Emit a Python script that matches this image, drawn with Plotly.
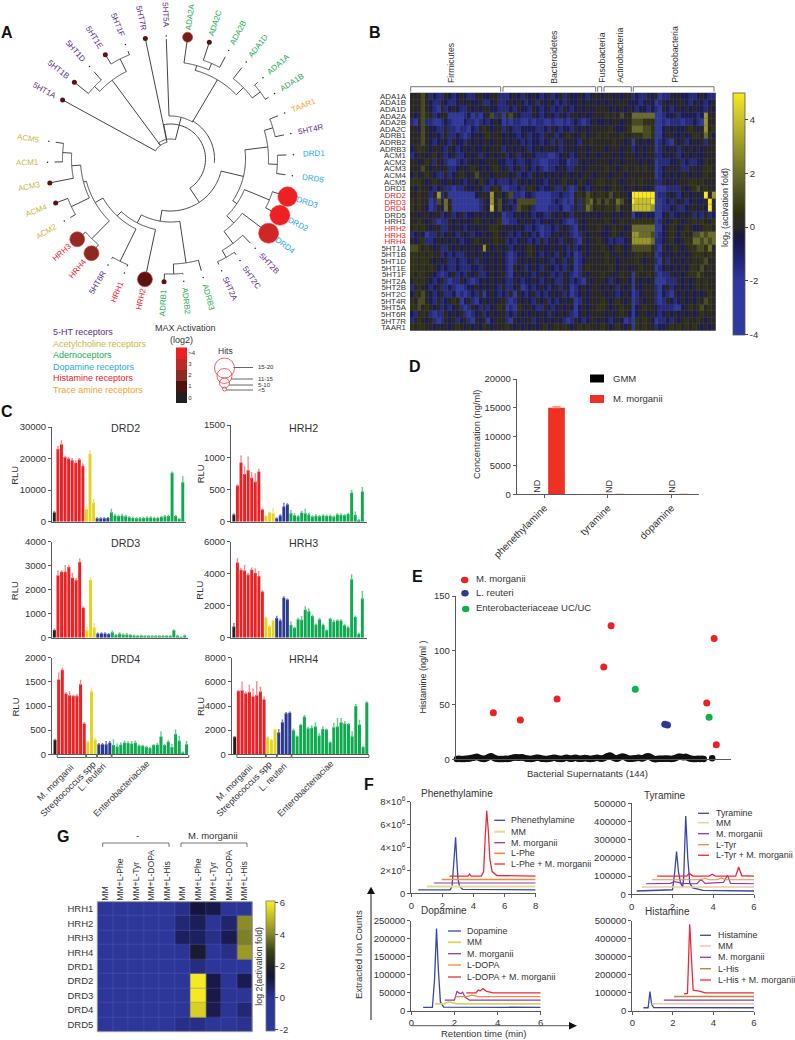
import numpy as np
import plotly.graph_objects as go

W, H = 795, 1040
FONT = "Liberation Sans"
INK = "#333333"
AXC = "#5a5a5a"

# --- A: receptor tree ---
leaf_names = ["5HT1A", "5HT1B", "5HT1D", "5HT1E", "5HT1F", "5HT7R", "5HT5A", "ADA2A", "ADA2C", "ADA2B", "ADA1D", "ADA1A",
              "ADA1B", "TAAR1", "5HT4R", "DRD1", "DRD5", "DRD3", "DRD2", "DRD4", "5HT2B", "5HT2C", "5HT2A", "ADRB3",
              "ADRB2", "ADRB1", "HRH2", "HRH1", "5HT6R", "HRH4", "HRH3", "ACM2", "ACM4", "ACM3", "ACM1", "ACM5"]
leaf_angle = [151.3, 141.4, 131.2, 122, 111.5, 101.8, 92, 82, 71.6, 61.8, 52, 41.3,
              32.2, 21.9, 12, 2, -7.8, -17.8, -27.2, -37.1, -46.5, -55.6, -65.4, -74.6,
              -83.8, -93, -102, -112, -120.5, -130, -139.3, -149.7, -159, -168.8, -178.5, -188.3]
leaf_hits = {"5HT1A": 5, "5HT1B": 5, "5HT1E": 5, "5HT7R": 5, "ADA2C": 5, "ADRB1": 5, "ACM3": 5, "ACM4": 5,
             "ADA2A": 10, "HRH2": 15, "HRH3": 15, "HRH4": 15, "DRD2": 20, "DRD3": 19.5, "DRD4": 20}
leaf_log2 = {"5HT1A": 1, "5HT1B": 1, "5HT1E": 1, "5HT7R": 1, "ADA2C": 1, "ADRB1": 1, "ACM3": 1, "ACM4": 1,
             "ADA2A": 1.5, "HRH2": 1, "HRH3": 2.2, "HRH4": 2, "DRD2": 4, "DRD3": 4, "DRD4": 3.3}
# nested (radius, children)
tree = (35, [
    (20, [
        (17, ["5HT1A",
              (98, [(105, ["5HT1B", "5HT1D"]), (112, ["5HT1E", "5HT1F"])]),
              "5HT7R"]),
        (43, ["5HT5A",
              (92, [(97, ["ADA2A", (104, ["ADA2C", "ADA2B"])]),
                    (102, ["ADA1D", (112, ["ADA1A", "ADA1B"])])])]),
    ]),
    (52, [
        (75, [
            (98, [(107, ["TAAR1", "5HT4R"]), (107, ["DRD1", "DRD5"])]),
            (80, [(107, ["DRD3", "DRD2"]),
                  (90, ["DRD4", (105, ["5HT2B", (113, ["5HT2C", "5HT2A"])])])]),
        ]),
        (63, [
            (105, ["ADRB3", (115, ["ADRB2", "ADRB1"])]),
            (72, ["HRH2",
                  (78, [(114, ["HRH1", "5HT6R"]),
                        (87, [(112, ["HRH4", "HRH3"]),
                              (90, [(110, ["ACM2", "ACM4"]),
                                    (99, ["ACM3", (108, ["ACM1", "ACM5"])])])])])]),
        ]),
    ]),
])
family_names = ["5-HT receptors", "Acetylcholine receptors", "Adernoceptors", "Dopamine receptors", "Histamine receptors",
                "Trace amine receptors"]
hit_labels = ["15-20", "11-15", "5-10", "<5"]
max_levels = [0, 1, 2, 3, 4]
max_labels = ["0", "1", "2", "3", ">4"]

# --- B: supernatant heatmap, one letter per cell ---
b_rows = ["ADA1A", "ADA1B", "ADA1D", "ADA2A", "ADA2B", "ADA2C", "ADRB1", "ADRB2", "ADRB3", "ACM1", "ACM2", "ACM3", "ACM4",
          "ACM5", "DRD1", "DRD2", "DRD3", "DRD4", "DRD5", "HRH1", "HRH2", "HRH3", "HRH4", "5HT1A", "5HT1B", "5HT1D", "5HT1E",
          "5HT1F", "5HT2A", "5HT2B", "5HT2C", "5HT4R", "5HT5A", "5HT6R", "5HT7R", "TAAR1"]
b_red = ["DRD2", "DRD3", "DRD4", "HRH2", "HRH3", "HRH4"]
b_letters = {"A": -3, "B": -2.2, "C": -1.4, "D": -0.7, ".": 0, "e": 0.6, "f": 1.2, "g": 2, "h": 3, "i": 4, "j": 5}
b_phyla = ["Firmicutes", "Bacteroidetes", "Fusobacteria", "Actinobacteria", "Proteobacteria"]
b_cells = [
    "...f.CDCC.DCD.DCC..DD..C CCD.DC.D.DCD.CD.C.DD.DCD. . D..D.D.. CDCC.D.BCC.D.DDCCD.DCC",
    "...f.DCC.DCCD.D.DD.CCD.C CD.D.DCD.C.D.DCDC.DD.D.D. D .D.D...D DDCD.DBC.D.D..DCD.DCD.",
    "...f.DCB.CD.DCC.D.D..DDC CCDC.DDC.DCD.CDC.DCD.D.D. . ..D.D.D. DCDDCDCB.DCD.D.D.DDC.D",
    ".D.fe.CD..BBBBCDBCBD.fCe Bef.DCCC.DCD.DC.DC..D.DD. . .e.e.f.. ggggggBBCDD.CDDDDCDh..",
    "CB.fCCBBCDCBBBDCCBCDCD.D BCBCCBBCBCCBBCBBCBCDCBCD. D D.D..D.. fffeeeBBCBCCCBCCDCBh..",
    "..Df.DDCC.CCBCCBDC.e.D.. C.DCCDDDDCCDC.DCDDC.D.D.. . ..e.DD.e gggffeBBD.D.DD.e.D.h.e",
    "...f.D.DC.CCDCBCD.D.e... D.DDCD.CDDC.D.CD.e.D.eD.. e .e...e.. eeeffeBBD..DD.D.ee.geD",
    "...f.DCD.DC.DDC.D.D..D.. D.D.DCDCDDCD.C.C.D.DC..e. . ...e..D. B.D.D.BCDCB.D.CD.D.C..",
    "D.ee.D..DC.DCD.D.DD.D... CD.D.D.CD.D.D.DC.D.D..D.. . .D...D.. CD.D..BC.D.DC.D.D.D...",
    "CD..D.eD.CD.CCD.D.C.D.D. .CD.C.D.DCCCBBCD.DCD..D.. D ...D.D.. .D.D..CCD.D.CD.D.DD...",
    "..D.e.C.DCBBCDC.D.DD...D DCCDCCDDCCBBCCCDDBCC.D.D. . ..D..D.. ..D.D.BCCCDD.CDCCDDe..",
    "...f.D..D.CCD.D.e.D.D.e. D.CD.C.DCDCBCCD.DCC..D... . .e..D.e. .e.e..BCD..D.CC..D.ee.",
    "DeD.e.DCC.CD.e.D.f.D.D.. ..D.CDDC.D.D.D.D..D.D...D . ..D...D. ......BCD.D.D..D.D.e..",
    "eee.D.e.DD.D.DCD.De.DCDC CCDC.D.D.DDCD.D.eD.De.D.. e e..e.D.. e.e...CC.D.D...ee.e...",
    ".De..DCD.CCBCC.DD.DCC.e. BBCCDC.e.DCDD.CC.CBC.DCD. . .D.e..D. .D.DD.BBBCCCC.D.ef.e..",
    "..e..C.hC.BBBBBBBD...h.e DefCCBDDCBBBBCCDCCB.e.fe. e e.f.e..D jjjjjjBCC.D.CD.D.D.j.h",
    "e.e..BCf.g.BBBBBBBC.Dh.f D.CDfffffBBBBCDCBCB.Cefg. f .fe.gf.D jiiiijBBCDC.D.CD.DD.j.",
    "e.e.DBC.Dg.BBBBBBBC.Di.f D.DCfee.CBBBCCCDBBC.Cegf. e .ee.f... iiiiihBBCCD.CCD..D.Dj.",
    "..D..D..CD.CD.CDD.D.D.D. BCCD.D.DCDDCC.D.D.C..D.D. D ...D.D.. BDD.DDBBD.CDD.D.CDC.CD",
    "..e.D.CBCC.D.D.D.e.D.D.e BBCCD.D.DCD.DD.DCBBC.D.. . .e.D.e.. eeeeeeBC.D.e.D..e.e..e",
    ".e.e.D..CC.D.DCD.D.D.ee. .D.D.DCCDCBCCDC.D.CB.D.. e .D.e..D. ggggggBBD.e.D.e.DD.ee.",
    "CD.DBCC.CD.DC.D.CDD.D.e. D.CDCD.DCDBCCD.D.DCBC.D. . DD.e.D.. hhgggfBCD.e.De..ffgfgg",
    ".D.eCCD.D.D.DCDD.e.D..e. .CDCD.DCDC.CD.DC.D.CB.D. e .DCDCCD. hhhhhgCCD.eDD.eeggfgfg",
    "ffe.e.D.CC.D.D.D.D.h.D.. D.CD.D.e.D.DD.D.DC.CD.D. . e.D.e.D. fffffeCB.D.e.D.eeffeg.",
    "ee.e.e..CDCDCC.D.D.DD.D. DCBCDD.e.DCD.DC.DCDBC.D. . .e.D..D. .ee.e.BCD.D.D.D.eee.e.",
    "ee.ee.D.D.CCDCCD.C.DD.D. DCBC.D.D.D.D.CD.CD.BCD.. . .e..D... .e.D..CB.C.D.D..e.ef..",
    "ee.e.e.DCDCCDCCCDDC.D.D. DCB.D.CD.DC.DDCDC.DBC.e. . ..e.D..D ..e...BCD.D.D.Dee.f.e.",
    "e.ee..DCBCD.CDC.D.CCD.D. .CBD.D.DCD.D.CDC.DCBC.D. . e..D.e.. Be..e.CBCC.D.D.eefe...",
    ".e.e.DCD.CBCC.DCBCD.D.D. DCC.DCDD.DCD.DCC.DCDCB.D . .DC.D..D B.D.D.BBBCCC.D.D.e.e..",
    "C.e.DCD.CCDCBBCDD.D.D.DC .CCD.BCDCD.DCD.C.DBCD.D. . D.D.C.D. B.D...CBD.CD.D.D.e.e..",
    "De.f.DCD.CCDBCBCDC.BD.DC DC.B.DCD.CDCD.D.CDBCD.D. . .D.DCD.D BCD...CBDCB.D.D.D.D.e.",
    "e.ff.DC.CD.e.BD.CBD.D.D. .CBC.D.DC.D.CDCD.D.BC.D. . e.D.e.D. BC.D..CBC.DCD.D.De.fe.",
    "eef.e.D.CDCD.CBC.DC.CD.e .BCBe.D.DCC.DCD.D.DBD.D. e e.D..e.. BD.e..DCCCCBBD.e.ef.e.",
    "DC.e.CBCC.D.D.CBCD.CD.D. .CDC.D.D.D.DC.D.D.CBD.D. . .D.D.e.D BD..D.DCD.D.D.D.D.e...",
    "C.e.D.CBC.D.CD.CB.D.BD.. .CB.D.D.CD.D.D.DCBC.DCD. D .DCD.DBC Be.e.DBCCDC.D.e..e.D..",
    "e.ee..D.D.D.e.D.D.De.D.. .e.D.D.D.D.eD.e.e.D.e.e. . e.D.e.D. Be.e..CDD.e.e.e.e.D.D.",
]
b_sizes = [24, 25, 1, 8, 22]

# --- C: luminescence bars ---
c_titles = ["DRD2", "HRH2", "DRD3", "HRH3", "DRD4", "HRH4"]
c_max = [30000, 1500, 4000, 6000, 2000, 8000]
c_ticks = [[0, 10000, 20000, 30000], [0, 500, 1000, 1500], [0, 1000, 2000, 3000, 4000],
           [0, 2000, 4000, 6000], [0, 500, 1000, 1500, 2000], [0, 2000, 4000, 6000, 8000]]
drd2_v = [3000, 23000, 24500, 20500, 20000, 19500, 18700, 19700, 17700, 4000, 21500, 6000, 1100, 1100, 1100, 1200,
          3000, 2000, 1800, 1900, 1700, 1400, 1200, 1100, 1100, 1200, 1300, 1300, 1200, 1200, 1500, 1700, 1800,
          15500, 1800, 900, 12500]
drd2_e = [200, 800, 1100, 200, 300, 500, 600, 300, 500, 700, 1000, 1000, 100, 100, 100, 100,
          900, 300, 300, 400, 300, 200, 150, 150, 150, 150, 200, 200, 150, 150, 200, 200, 200,
          200, 150, 100, 1700]
hrh2_v = [110, 560, 920, 740, 800, 680, 620, 780, 190, 90, 140, 130, 55, 95, 235, 265,
          130, 100, 85, 140, 130, 110, 80, 90, 85, 95, 90, 90, 80, 110, 105, 100, 120,
          450, 105, 25, 470]
hrh2_e = [10, 10, 95, 110, 200, 80, 120, 30, 5, 5, 10, 70, 5, 10, 50, 10,
          40, 20, 10, 20, 60, 15, 10, 15, 10, 10, 10, 10, 5, 10, 15, 10, 10,
          30, 45, 5, 60]
drd3_v = [320, 2600, 2750, 2750, 2950, 2500, 2400, 3150, 1250, 320, 2400, 420, 170, 180, 180, 150,
          230, 110, 160, 130, 130, 110, 90, 80, 90, 70, 60, 60, 60, 60, 70, 70, 70,
          310, 70, 20, 90]
drd3_e = [40, 170, 30, 250, 40, 170, 60, 120, 30, 100, 90, 160, 15, 15, 15, 15,
          40, 15, 40, 30, 40, 20, 15, 10, 10, 10, 10, 10, 10, 10, 10, 10, 10,
          20, 15, 5, 20]
hrh3_v = [700, 4700, 4250, 4200, 3950, 4250, 4050, 3850, 2880, 1250, 720, 1080, 1230, 1080, 2500, 2380,
          800, 620, 1150, 1120, 1750, 1650, 1350, 820, 1150, 800, 470, 1180, 1000, 1080, 1080, 780, 640,
          3650, 1300, 250, 2450]
hrh3_e = [180, 230, 70, 300, 60, 100, 250, 280, 40, 30, 60, 30, 100, 60, 50, 30,
          170, 30, 60, 190, 180, 130, 40, 30, 60, 50, 20, 30, 60, 40, 30, 50, 60,
          270, 40, 30, 430]
drd4_v = [300, 1550, 1750, 1260, 1220, 1210, 1210, 1450, 640, 260, 1300, 300, 210, 210, 210, 240,
          190, 160, 200, 240, 235, 220, 240, 180, 175, 150, 130, 190, 200, 370, 190, 260, 150,
          420, 280, 40, 210]
drd4_e = [10, 130, 30, 15, 70, 10, 20, 80, 15, 5, 70, 30, 10, 10, 50, 20,
          110, 50, 30, 30, 20, 40, 30, 10, 10, 20, 15, 10, 20, 90, 10, 15, 50,
          80, 90, 10, 50]
hrh4_v = [1450, 5250, 5300, 5050, 5150, 4800, 4900, 5200, 4550, 1400, 1200, 2050, 1800, 2650, 3400, 3450,
          2000, 1500, 2450, 3100, 2150, 2200, 2300, 1550, 2100, 2050, 1000, 2250, 2300, 2650, 2550, 2500, 1500,
          4000, 2450, 600, 4300]
hrh4_e = [20, 30, 650, 100, 550, 600, 1100, 350, 180, 40, 30, 30, 250, 180, 40, 50,
          80, 30, 30, 100, 80, 150, 300, 130, 150, 30, 20, 300, 650, 300, 150, 30, 350,
          120, 350, 60, 40]
c_values = [drd2_v, hrh2_v, drd3_v, hrh3_v, drd4_v, hrh4_v]
c_errors = [drd2_e, hrh2_e, drd3_e, hrh3_e, drd4_e, hrh4_e]
c_groups = [(0, 1), (1, 9), (9, 12), (12, 16), (16, 37)]
c_bracket_names = ["M. morganii", "Streptococcus spp", "L. reuteri", "Enterobacteriaciae"]

# --- D ---
d_amines = ["phenethylamine", "tyramine", "dopamine"]
d_gmm = [0, 0, 0]
d_morganii = [15000, 0, 0]
d_morganii_err = [250, 0, 0]
d_ticks = [0, 5000, 10000, 15000, 20000]

# --- E: histamine in 144 supernatants ---
e_red_i = [22.2, 37.2, 57.6, 83.5, 87.6, 140.7, 144.8, 146]
e_red_v = [42.9, 36.2, 55.5, 84.9, 122.6, 51.8, 111, 13.5]
e_blue_i = [117.4, 118.9]
e_blue_v = [32.2, 31.6]
e_green_i = [101, 142]
e_green_v = [64.4, 38.7]
e_black_v = [0.2, 0.3, 0.5, 0.4, 0.3, 0.4, 0.5, 0.6, 0.8, 1.2, 1.6, 2.0, 2.4, 1.8, 1.0, 0.5, 0.4, 0.8, 1.6, 2.4,
             3.0, 2.0, 1.0, 0.5, 0.4, 0.3, 0.4, 0.3, 0.5, 0.4, 0.5, 1.0, 1.5, 1.8, 2.0, 1.6, 1.8, 2.0, 1.4, 1.0,
             0.6, 0.5, 0.4, 0.5, 1.0, 1.4, 1.6, 1.2, 0.7, 0.5, 0.4, 0.4, 0.6, 0.8, 1.2, 1.6, 1.2, 0.7, 0.5, 0.4,
             0.5, 1.2, 1.4, 1.0, 0.6, 0.7, 1.2, 1.4, 0.9, 0.6, 0.5, 0.8, 1.2, 1.0, 0.6, 0.4, 0.5, 0.9, 1.3, 1.5,
             1.1, 0.6, 0.8, 1.6, 2.4, 3.2, 3.5, 2.6, 1.4, 0.8, 0.6, 1.4, 2.2, 2.6, 2.2, 1.4, 0.7, 0.5, 0.6, 0.9,
             1.0, 1.2, 1.4, 1.0, 0.8, 1.6, 2.4, 2.8, 2.4, 1.4, 0.6, 0.2, 0.4, 0.5, 0.6, 0.5, 0.6, 0.8, 0.7, 0.5,
             0.4, 0.5, 1.0, 1.8, 2.4, 2.5, 2.2, 2.0, 2.4, 1.8, 1.0, 0.6, 0.4, 0.3, 0.4, 0.5, 0.4, 0.5, 0.3, 1.0]
e_black_i = list(range(1, 140)) + [143.7]
e_labels = ["M. morganii", "L. reuteri", "Enterobacteriaceae UC/UC"]

# --- F: ion chromatograms ---
phe_names = ["Phenethylamine", "MM", "M. morganii", "L-Phe", "L-Phe + M. morganii"]
phe_x = [[0.45, 2.5, 2.62, 2.7, 2.8, 2.85, 2.92, 3.0, 3.1, 3.3, 8],
         [1, 8], [1.45, 8], [1.95, 8],
         [2.45, 3.65, 3.75, 3.85, 4.5, 4.65, 4.75, 4.85, 4.95, 5.05, 5.2, 5.5, 8]]
phe_y = [[300000, 300000, 600000, 2200000, 4300000, 4900000, 3000000, 1300000, 600000, 350000, 300000],
         [600000, 600000], [900000, 900000], [1200000, 1200000],
         [1500000, 1500000, 1680000, 1500000, 1500000, 1900000, 4800000, 7200000, 5500000, 3000000, 1900000, 1550000, 1500000]]
phe_ticks = [0, 2000000, 4000000, 6000000, 8000000]
phe_ticktext = ["0", "2×10<sup>6</sup>", "4×10<sup>6</sup>", "6×10<sup>6</sup>", "8×10<sup>6</sup>"]

tyr_names = ["Tyramine", "MM", "M. morganii", "L-Tyr", "L-Tyr + M. morganii"]
tyr_x = [[0.25, 2.0, 2.1, 2.2, 2.3, 2.4, 2.5, 2.55, 2.65, 2.75, 2.85, 3.0, 3.5, 6],
         [0.5, 6],
         [0.7, 1.9, 2.1, 2.3, 2.5, 3.2, 3.4, 3.6, 4.2, 4.5, 4.7, 4.85, 6],
         [1, 3.4, 3.6, 3.8, 4.2, 4.4, 4.6, 6],
         [1.25, 2.7, 2.82, 3.0, 3.8, 3.95, 4.1, 5.1, 5.25, 5.4, 6]]
tyr_y = [[18000, 25000, 110000, 235000, 120000, 60000, 40000, 90000, 430000, 200000, 60000, 35000, 22000, 18000],
         [40000, 40000],
         [58000, 60000, 70000, 65000, 60000, 58000, 82000, 60000, 62000, 65000, 105000, 60000, 58000],
         [80000, 80000, 88000, 80000, 80000, 90000, 80000, 80000],
         [100000, 100000, 115000, 100000, 100000, 110000, 100000, 100000, 150000, 102000, 100000]]
tyr_ticks = [0, 100000, 200000, 300000, 400000, 500000]

dop_names = ["Dopamine", "MM", "M. morganii", "L-DOPA", "L-DOPA + M. morganii"]
dop_x = [[0.55, 0.98, 1.08, 1.17, 1.25, 1.35, 1.5, 6],
         [1.1, 1.5, 1.75, 2.1, 6],
         [1.55, 2.0, 2.12, 2.2, 2.3, 2.38, 2.5, 2.7, 6],
         [2.05, 2.6, 2.8, 3.1, 6],
         [2.55, 3.0, 3.1, 3.2, 3.32, 3.5, 3.8, 6]]
dop_y = [[10000, 10000, 90000, 228000, 120000, 25000, 11000, 10000],
         [20000, 20000, 25000, 20000, 20000],
         [30000, 30000, 55000, 50000, 48000, 52000, 38000, 30000, 30000],
         [40000, 40000, 44000, 40000, 40000],
         [50000, 50000, 58000, 56000, 62000, 54000, 50000, 50000]]
dop_ticks = [0, 50000, 100000, 150000, 200000, 250000]

his_names = ["Histamine", "MM", "M. morganii", "L-His", "L-His + M. morganii"]
his_x = [[0.55, 0.78, 0.87, 0.95, 1.05, 6], [0.95, 6], [1.55, 6], [2.05, 6],
         [2.55, 2.72, 2.83, 2.92, 3.0, 3.3, 3.6, 6]]
his_y = [[18000, 18000, 107000, 40000, 19000, 18000], [40000, 40000], [60000, 60000], [80000, 80000],
         [95000, 97000, 480000, 250000, 115000, 110000, 100000, 100000]]
his_ticks = [0, 100000, 200000, 300000, 400000, 500000]

# --- G ---
g_rows = ["HRH1", "HRH2", "HRH3", "HRH4", "DRD1", "DRD2", "DRD3", "DRD4", "DRD5"]
g_cols = ["MM", "MM+L-Phe", "MM+L-Tyr", "MM+L-DOPA", "MM+L-His"]
g_none = [-0.9, -0.9, -0.9, -0.9, -0.9]
g_morganii = [[0.2, 1.3, 1.1, -0.5, -0.3],
              [0.5, 0.9, -0.3, 0.6, 4.1],
              [0.8, 0.8, 0.2, 1.0, 3.9],
              [-0.3, 1.6, -0.6, 0.2, 4.4],
              [-0.7, 0.3, -0.7, -0.7, -0.7],
              [-0.7, 6, 1.1, -0.5, 1.0],
              [-0.6, 6, 1.1, -0.4, -0.5],
              [-0.6, 5.5, 1.0, -0.4, 0.5],
              [0.2, 0.2, -0.6, -0.6, 0.1]]


fig = go.Figure()
notes = []
shapes = []


def px(x, y):
    return x / W, 1 - y / H


def txt(x, y, s, size=9.5, color=INK, angle=0, anchor="center", bold=False):
    fx, fy = px(x, y)
    notes.append(dict(x=fx, y=fy, xref="paper", yref="paper", text=f"<b>{s}</b>" if bold else s, showarrow=False,
                      textangle=angle, xanchor=anchor, yanchor="middle", align="left",
                      font=dict(family=FONT, size=size, color=color)))


def line(x0, y0, x1, y1, color=AXC, width=1):
    fx0, fy0 = px(x0, y0)
    fx1, fy1 = px(x1, y1)
    shapes.append(dict(type="line", x0=fx0, y0=fy0, x1=fx1, y1=fy1, xref="paper", yref="paper",
                       line=dict(color=color, width=width)))


def poly(points, fill=None, color=AXC, width=1, layer="above"):
    p = []
    for i, (x, y) in enumerate(points):
        fx, fy = px(x, y)
        p.append(("M" if i == 0 else "L") + f"{fx:.5f},{fy:.5f}")
    path = " ".join(p) + (" Z" if fill else "")
    shapes.append(dict(type="path", path=path, xref="paper", yref="paper", fillcolor=fill, layer=layer,
                       line=dict(color=color, width=width)))


def dot(x, y, rx, ry, fill=None, color=None, width=1):
    x0, y0 = px(x - rx, y - ry)
    x1, y1 = px(x + rx, y + ry)
    shapes.append(dict(type="circle", x0=x0, y0=y0, x1=x1, y1=y1, xref="paper", yref="paper", fillcolor=fill,
                       line=dict(color=color or fill, width=width)))


def axes(n, x0, x1, y_top, y_bot, xa=None, ya=None):
    base = dict(showgrid=False, zeroline=False, showline=True, linecolor=AXC, linewidth=1, ticks="outside", ticklen=3,
                tickcolor=AXC, tickfont=dict(family=FONT, size=9.5, color=INK))
    xd = dict(base, domain=[x0 / W, x1 / W], anchor=f"y{n}")
    yd = dict(base, domain=[1 - y_bot / H, 1 - y_top / H], anchor=f"x{n}")
    xd.update(xa or {})
    yd.update(ya or {})
    fig.layout[f"xaxis{n}"] = xd
    fig.layout[f"yaxis{n}"] = yd
    return f"x{n}", f"y{n}"


# ---------- A ----------
CX, CY, RPX = 170.5, 159, 150
fig.update_layout(polar=dict(domain=dict(x=[(CX - RPX) / W, (CX + RPX) / W], y=[1 - (CY + RPX) / H, 1 - (CY - RPX) / H]),
                             bgcolor="rgba(0,0,0,0)",
                             radialaxis=dict(visible=False, range=[0, RPX]),
                             angularaxis=dict(visible=False, rotation=0, direction="counterclockwise")))
angle_of = dict(zip(leaf_names, leaf_angle))
tree_th, tree_r = [], []


def leaf_tip(name):
    if name in leaf_hits:
        return 123
    return 120 if name == "5HT5A" else 116


def walk(node):
    if isinstance(node, str):
        return angle_of[node], leaf_tip(node)
    r, kids = node
    got = [walk(k) for k in kids]
    angs = [g[0] for g in got]
    arc = np.linspace(min(angs), max(angs), 60)
    tree_th.extend(list(arc) + [None])
    tree_r.extend([r] * 60 + [None])
    for a, kr in got:
        tree_th.extend([a, a, None])
        tree_r.extend([r, kr, None])
    return (min(angs) + max(angs)) / 2, r


walk(tree)
# second inner ring beside the root arc
ring = np.linspace(-5, 60, 40)
tree_th.extend(list(ring) + [None])
tree_r.extend([44] * 40 + [None])
fig.add_trace(go.Scatterpolar(theta=tree_th, r=tree_r, mode="lines", line=dict(color="#444444", width=1), hoverinfo="skip"))

hit_scale = [(0, "#231f20"), (0.25, "#5a1212"), (0.5, "#8a2a22"), (0.75, "#c02a26"), (1, "#ed2024")]
fig.add_trace(go.Scatterpolar(theta=leaf_angle, r=[123] * len(leaf_names), mode="markers",
                              marker=dict(size=[leaf_hits.get(n, 1.5) for n in leaf_names],
                                          color=[leaf_log2.get(n, 0) for n in leaf_names],
                                          cmin=0, cmax=4, colorscale=hit_scale,
                                          line=dict(width=[0.6 if n in leaf_hits and leaf_hits[n] > 5 else 0 for n in leaf_names],
                                                    color="#e83a3a"), opacity=1)))


def family_color(name):
    if name.startswith("5HT"):
        return "#5b2d91"
    if name.startswith("ACM"):
        return "#c9b93f"
    if name.startswith("AD"):
        return "#22ac4e"
    if name.startswith("DRD"):
        return "#27aae1"
    if name.startswith("HRH"):
        return "#ed2024"
    return "#f9a12f"


for name, a in zip(leaf_names, leaf_angle):
    rad = np.radians(a)
    right = np.cos(rad) > 0
    ang = -a if right else 180 - a
    if ang > 180:
        ang -= 360
    txt(CX + 143.5 * np.cos(rad), CY - 143.5 * np.sin(rad), name, 8, family_color(name), angle=ang)

family_colors = ["#5b2d91", "#c9b93f", "#22ac4e", "#27aae1", "#ed2024", "#f9a12f"]
for i, (name, c) in enumerate(zip(family_names, family_colors)):
    txt(51, 332 + 11.6 * i, name, 9, c, anchor="left")
txt(185, 328, "MAX Activation", 9)
txt(181.5, 340, "(log2)", 9)

xn, yn = axes(2, 176, 187.3, 347.3, 403,
              dict(visible=False, range=[-0.5, 0.5]),
              dict(side="right", showline=False, ticks="", tickvals=max_levels, ticktext=max_labels, range=[-0.5, 4.5],
                   tickfont=dict(family=FONT, size=6, color=INK)))
fig.add_trace(go.Heatmap(z=[[v] for v in max_levels], x=[0], y=max_levels, xaxis=xn, yaxis=yn, showscale=False, zmin=0, zmax=4,
                         colorscale=[(0, "#231f20"), (0.25, "#4f1010"), (0.5, "#8a2a22"), (0.75, "#be2a2a"), (1, "#ed2024")]))

txt(225, 350.5, "Hits", 8.5)
for (y, r), yl in zip([(368, 10), (376, 7.5), (383, 5), (389, 2)], [367.5, 379, 385, 390]):
    dot(224.5, y, r, r, color="#ee3a3a", width=0.8)
    line(224.5 + r * 0.9, yl, 253, yl, "#666666", 1)
for s, y in zip(hit_labels, [367, 379, 385, 390]):
    txt(255.5, y, s, 6, anchor="left")

# ---------- B ----------
b_x = list(range(80))
b_z = []
for row in b_cells:
    cells = ""
    for seg, size in zip(row.split(" "), b_sizes):
        cells += seg.ljust(size, ".")[:size]
    b_z.append([b_letters[c] for c in cells])
b_scale_pts = [(-4, "#2e3aa0"), (-2, "#3038a0"), (-1, "#1d2068"), (-0.3, "#181540"), (0, "#2a2625"), (0.5, "#2c2e12"),
               (2, "#6b6d2a"), (4, "#c6c02c"), (5, "#fbe91e")]
b_scale = [((v + 4) / 9, c) for v, c in b_scale_pts]
b_ticktext = [f"<span style='color:#ed2024'>{n}</span>" if n in b_red else n for n in b_rows]
poly([(410, 92.7), (715.7, 92.7), (715.7, 330.7), (410, 330.7)], fill="#55555f", color="#55555f", width=0, layer="below")
xn, yn = axes(3, 410, 715.7, 92.7, 330.7,
              dict(visible=False, range=[-0.5, 79.5]),
              dict(showline=False, ticks="", autorange=False, range=[35.5, -0.5], tickvals=list(range(36)), ticktext=b_ticktext,
                   tickfont=dict(family=FONT, size=7.9, color=INK), ticklabelstandoff=3))
fig.add_trace(go.Heatmap(z=b_z, x=b_x, y=list(range(36)), xaxis=xn, yaxis=yn, zmin=-4, zmax=5, colorscale=b_scale, xgap=0.25, ygap=0.35,
                         colorbar=dict(x=733.3 / W, xanchor="left", y=1 - 92.7 / H, yanchor="top", lenmode="pixels", len=241.6,
                                       thicknessmode="pixels", thickness=11.5, xpad=0, ypad=0, tickvals=[-4, -2, 0, 2, 4],
                                       ticktext=["-4", "-2", "0", "2", "4"], ticks="outside", ticklen=3, outlinewidth=0.8,
                                       outlinecolor="#555555", tickfont=dict(family=FONT, size=9.5, color=INK))))
txt(726, 208, "log<sub>2</sub> (activation fold)", 9, angle=-90)
for (x0, x1) in [(410.7, 500.7), (503, 595.7), (597.7, 601.7), (604, 631.3), (633.3, 714)]:
    poly([(x0, 91.7), (x0, 86.7), (x1, 86.7), (x1, 91.7)], color="#666666", width=0.9)
for name, x, y in zip(b_phyla, [451, 554, 601.7, 619.3, 675], [63, 56.8, 58, 55.5, 54.7]):
    txt(x, y, name, 8.7, angle=-90)

# ---------- C ----------
c_boxes = [(52, 186, 427, 521.7, -0.65, 36.9), (231, 367, 425, 521.7, -0.8, 37.3),
           (52, 188, 541.7, 637.7, -0.65, 36.9), (231, 367, 541.7, 637.7, -0.8, 37.3),
           (52, 188, 657.7, 754.3, -0.82, 36.4), (231.7, 369, 657.7, 754.3, -0.82, 36.6)]
c_colors = ["#231f20", "#ed2024", "#e3d41f", "#2b3992", "#0faa4f"]
c_err_colors = ["#888888", "#f58a8a", "#efe27a", "#6f7ac0", "#66cc90"]
for i, (x0, x1, yt, yb, r0, r1) in enumerate(c_boxes):
    xn, yn = axes(4 + i, x0, x1, yt, yb,
                  dict(range=[r0, r1], ticks="", showticklabels=False),
                  dict(range=[0, c_max[i]], tickvals=c_ticks[i], tickformat="d"))
    for (a, b), col, ec in zip(c_groups, c_colors, c_err_colors):
        fig.add_trace(go.Bar(x=list(range(a, b)), y=c_values[i][a:b], xaxis=xn, yaxis=yn, width=0.82, marker=dict(color=col, line=dict(width=0)),
                             error_y=dict(type="data", symmetric=False, array=c_errors[i][a:b], arrayminus=[0] * (b - a),
                                          color=ec, thickness=1.3, width=0.8)))
    txt(125 if i % 2 == 0 else 303.5, [428, 428, 543, 543, 659, 659][i], c_titles[i], 10.7)
    txt(14.5 if i % 2 == 0 else 200, (yt + yb) / 2 + 1, "RLU", 9.5, angle=-90)
    if i >= 4:
        for lo, hi in [(0.6, 8.4), (8.6, 11.4), (11.6, 15.4), (15.6, 36.6)]:
            sx = (x1 - x0) / (r1 - r0)
            a, b = x0 + (lo - r0) * sx, x0 + (hi - r0) * sx
            poly([(a, 755), (a, 757.5), (b, 757.5), (b, 755)], color="#555555", width=0.9)
for name, x, y in zip(c_bracket_names, [55, 68, 92, 121], [783, 789, 777, 789]):
    txt(x, y, name, 9, angle=-45)
for name, x, y in zip(c_bracket_names, [234, 244, 273, 305], [783, 789, 777, 789]):
    txt(x, y, name, 9, angle=-45)

# ---------- D ----------
xn, yn = axes(16, 516.7, 698.7, 379, 494.3,
              dict(range=[-0.435, 2.43], tickvals=[0, 1, 2], ticktext=d_amines, tickangle=-45,
                   tickfont=dict(family=FONT, size=10, color=INK)),
              dict(range=[0, 20000], tickvals=d_ticks, tickformat="d"))
fig.add_trace(go.Bar(x=[0, 1, 2], y=d_gmm, xaxis=xn, yaxis=yn, width=0.263, offset=-0.22, marker_color="#000000"))
fig.add_trace(go.Bar(x=[0, 1, 2], y=d_morganii, xaxis=xn, yaxis=yn, width=0.263, offset=0.06, marker=dict(color="#ee3124", line=dict(width=0)),
                     error_y=dict(type="data", array=d_morganii_err, symmetric=False, arrayminus=[0, 0, 0], color="#f58a7a", thickness=1, width=4)))
for x in [536.7, 609, 671.7]:
    txt(x, 486, "ND", 9, angle=-90)
txt(477, 435, "Concentration (ng/ml)", 9.3, angle=-90)
poly([(590, 374.5), (604, 374.5), (604, 382.5), (590, 382.5)], fill="#000000", color="#000000", width=0)
poly([(590, 395), (604, 395), (604, 403), (590, 403)], fill="#ee3124", color="#ee3124", width=0)
txt(611, 378, "GMM", 9.5, anchor="left")
txt(611, 399, "M. morganii", 9.5, anchor="left")

# ---------- E ----------
xn, yn = axes(17, 455.7, 730.7, 596, 759.4,
              dict(range=[1.3, 154], ticks="", showticklabels=False),
              dict(range=[0, 150], tickvals=[0, 50, 100, 150]))
e_series = [(e_black_i, e_black_v, "#111111", 6.5), (e_red_i, e_red_v, "#ed2024", 7),
            (e_blue_i, e_blue_v, "#2b3992", 7), (e_green_i, e_green_v, "#0bb14f", 7)]
for xs, ys, col, size in e_series:
    fig.add_trace(go.Scatter(x=xs, y=ys, xaxis=xn, yaxis=yn, mode="markers", cliponaxis=False,
                             marker=dict(color=col, size=size, line=dict(width=0))))
for (x, y), col, name, ty in zip([(464.7, 580), (465, 593.3), (465.7, 609)], ["#ed2024", "#2b3992", "#0bb14f"], e_labels, [578.7, 592, 607]):
    dot(x, y, 3.7, 3.2, fill=col, width=0)
    txt(474.3, ty, name, 9.5, anchor="left")
txt(422.7, 676.7, "Histamine (ng/ml )", 9, angle=-90)
txt(587, 773, "Bacterial Supernatants (144)", 9.5)

# ---------- F ----------
f_blue, f_yellow, f_purple, f_orange, f_red = "#3a46a8", "#d8ce45", "#8e3ca8", "#f58a3c", "#ee2a3a"
f_peach, f_brown = "#f5c9a0", "#c8803c"
f_specs = [
    (18, 411.3, 535.7, 801.7, 893.3, 8, 8000000, [0, 2, 4, 6, 8], phe_ticks, phe_ticktext, phe_names, phe_x, phe_y,
     [f_blue, "#e4dc8a", f_purple, f_orange, f_red], [1.3, 2, 1.2, 1.6, 1.3],
     "Phenethylamine", 419.3, 793, 494.3, 505, 508.7, [820.3, 831.7, 842.7, 853.3, 864]),
    (19, 631.7, 754, 803.3, 894.3, 6, 500000, [0, 2, 4, 6], tyr_ticks, None, tyr_names, tyr_x, tyr_y,
     [f_blue, f_peach, f_purple, f_orange, f_red], [1.3, 1.5, 1.2, 1.2, 1.3],
     "Tyramine", 641.7, 795.7, 698, 709, 714, [813.3, 822.7, 833.7, 844.7, 855.3]),
    (20, 411.3, 540.7, 920.7, 1011, 6, 250000, [0, 2, 4, 6], dop_ticks, None, dop_names, dop_x, dop_y,
     [f_blue, "#dcd35a", f_purple, f_orange, f_red], [1.3, 1.8, 1.2, 1.2, 1.3],
     "Dopamine", 419.3, 910, 448, 461, 465, [931, 942.3, 953.7, 965, 977]),
    (21, 632.3, 754, 920.7, 1011, 6, 500000, [0, 2, 4, 6], his_ticks, None, his_names, his_x, his_y,
     [f_blue, f_peach, f_purple, f_brown, f_red], [1.3, 1.5, 1.2, 1.4, 1.3],
     "Histamine", 642.7, 911.7, 700, 711, 715.7, [935.3, 946, 957.3, 968.7, 980]),
]
for n, x0, x1, yt, yb, xmax, ymax, xt, yt_vals, yt_text, names, xs, ys, cols, widths, title, tx, ty, l0, l1, lt, lys in f_specs:
    ya = dict(range=[0, ymax], tickvals=yt_vals, tickformat="d")
    if yt_text:
        ya["ticktext"] = yt_text
    xn, yn = axes(n, x0, x1, yt, yb, dict(range=[0, xmax], tickvals=xt), ya)
    for tx_i, ty_i, col, w in zip(xs, ys, cols, widths):
        fig.add_trace(go.Scatter(x=tx_i, y=ty_i, xaxis=xn, yaxis=yn, mode="lines", line=dict(color=col, width=w), cliponaxis=False))
    txt(tx, ty, title, 10, anchor="left")
    for name, y, col, w in zip(names, lys, cols, widths):
        line(l0, y, l1, y, col, max(w, 1.3))
        txt(lt, y, name, 8.9, anchor="left")

line(371, 893, 371, 1020, "#666666", 1.5)
poly([(371, 886.7), (367, 894), (375, 894)], fill="#111111", color="#111111", width=0)
line(411.7, 1025.7, 569, 1025.7, "#555555", 1)
poly([(577, 1025.7), (569, 1022), (569, 1029.5)], fill="#111111", color="#111111", width=0)
txt(358, 955, "Extracted Ion Counts", 9.5, angle=-90)
txt(484, 1033, "Retention time (min)", 9.5)

# ---------- G ----------
g_z = [g_none + row for row in g_morganii]
g_scale_pts = [(-2.1, "#2b3a9f"), (0, "#2c3494"), (1.3, "#14143c"), (2, "#222120"), (3, "#3c4612"), (4, "#858628"), (6.1, "#fcee21")]
g_scale = [((v + 2.1) / 8.2, c) for v, c in g_scale_pts]
poly([(97.3, 901.7), (252.3, 901.7), (252.3, 1031.7), (97.3, 1031.7)], fill="#5a64b4", color="#5a64b4", width=0, layer="below")
xn, yn = axes(22, 97.3, 252.3, 901.7, 1031.7,
              dict(side="top", range=[-0.5, 9.5], tickvals=list(range(10)), ticktext=g_cols + g_cols, tickangle=-90, ticks="", showline=False,
                   tickfont=dict(family=FONT, size=8.6, color=INK)),
              dict(range=[8.5, -0.5], autorange=False, tickvals=list(range(9)), ticktext=g_rows, ticks="", showline=False,
                   tickfont=dict(family=FONT, size=9.5, color=INK), ticklabelstandoff=3))
fig.add_trace(go.Heatmap(z=g_z, x=list(range(10)), y=list(range(9)), xaxis=xn, yaxis=yn, zmin=-2.1, zmax=6.1, colorscale=g_scale, xgap=0.4, ygap=0.4,
                         colorbar=dict(x=266 / W, xanchor="left", y=1 - 901 / H, yanchor="top", lenmode="pixels", len=130,
                                       thicknessmode="pixels", thickness=9, xpad=0, ypad=0, tickvals=[-2, 0, 2, 4, 6],
                                       ticktext=["-2", "0", "2", "4", "6"], ticks="outside", ticklen=3, outlinewidth=0.8,
                                       outlinecolor="#777777", tickfont=dict(family=FONT, size=9.5, color=INK))))
poly([(97.3, 901.7), (252.3, 901.7), (252.3, 1031.7), (97.3, 1031.7), (97.3, 901.7)], color="#999999", width=1)
txt(259, 966.7, "log 2(activation fold)", 8.8, angle=-90)
poly([(102.7, 847), (102.7, 843), (169, 843), (169, 847)], color="#666666", width=0.9)
poly([(181, 847), (181, 843), (247, 843), (247, 847)], color="#666666", width=0.9)
txt(137.7, 835, "-", 9.5)
txt(213.3, 835, "M. morganii", 9.5)

# panel letters
for s, x, y in [("A", 7.3, 32.7), ("B", 375, 32.7), ("C", 7, 411.7), ("D", 415, 366), ("E", 417, 576), ("F", 369, 784), ("G", 63, 836.7)]:
    txt(x, y, s, 16, "#111111", bold=True)

fig.update_layout(width=W, height=H, autosize=False, margin=dict(l=0, r=0, t=0, b=0, pad=0, autoexpand=False), paper_bgcolor="white", plot_bgcolor="white",
                  showlegend=False, barmode="overlay", annotations=notes, shapes=shapes, font=dict(family=FONT, color=INK))
fig.write_html("out.html", config=dict(displayModeBar=False), post_script="document.body.style.margin='0';")
